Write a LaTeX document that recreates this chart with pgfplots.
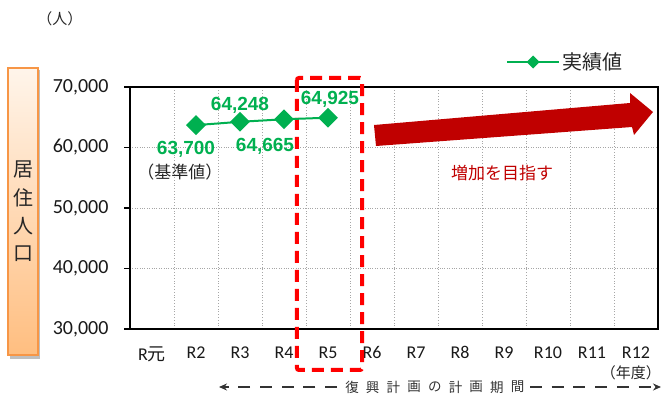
\documentclass[border=0pt]{standalone}
\usepackage{pgfplots}
\pgfplotsset{compat=1.18}
\usetikzlibrary{arrows.meta}
\usepackage{fontspec}
\setmainfont{Carlito}
\newfontfamily\jp{Noto Sans CJK JP}
\newfontfamily\lab{Liberation Sans}
\definecolor{grn}{HTML}{00B050}
\definecolor{dred}{HTML}{C00000}
\definecolor{orgB}{HTML}{F79646}
\begin{document}
\begin{tikzpicture}
\path[use as bounding box] (0pt,0pt) rectangle (662pt,396pt);
% orange label box
\fill[black!25] (10pt,37pt) rectangle (40pt,326pt);
\shade[top color=orange!8, bottom color={rgb,255:red,255;green,190;blue,128}, draw=orgB, line width=1.5pt] (8pt,41pt) rectangle (38pt,328pt);
\node[font=\jp\fontsize{20}{20}\selectfont, text=black!85] at (23pt,227pt) {居};
\node[font=\jp\fontsize{20}{20}\selectfont, text=black!85] at (23pt,198pt) {住};
\node[font=\jp\fontsize{20}{20}\selectfont, text=black!85] at (23pt,170pt) {人};
\node[font=\jp\fontsize{20}{20}\selectfont, text=black!85] at (23pt,142pt) {口};
% unit
\node[font=\jp\fontsize{15}{15}\selectfont, text=black!85] at (60pt,377pt) {（人）};
\node[font=\jp\fontsize{15}{15}\selectfont, text=black!85, anchor=east, inner sep=0pt] at (661pt,23pt) {（年度）};
% plan period
\foreach \c [count=\i from 0] in {復,興,計,画,の,計,画,期,間} {
  \node[font=\jp\fontsize{13.5}{13.5}\selectfont, text=black!80, inner sep=0pt] at ({352pt+20.7pt*\i},9pt) {\c};
}
\draw[black!80, line width=1.5pt, dash pattern=on 12pt off 9.7pt, -{Stealth[length=8pt,width=7pt]}] (337pt,9pt) -- (219pt,9pt);
\draw[black!80, line width=1.5pt, dash pattern=on 12pt off 9.7pt, -{Stealth[length=8pt,width=7pt]}] (530pt,9pt) -- (661pt,9pt);
\begin{axis}[
  at={(130pt,67pt)}, anchor=south west,
  scale only axis, width=528pt, height=242pt,
  xmin=-0.5, xmax=11.5, ymin=30000, ymax=70000,
  clip=false,
  xtick={0,...,11},
  xticklabels={R{\jp 元},R2,R3,R4,R5,R6,R7,R8,R9,R10,R11,R12},
  minor xtick={0.5,1.5,...,10.5},
  xminorgrids,
  major x tick style={draw=none},
  minor x tick style={draw=none},
  ytick={30000,40000,50000,60000,70000},
  ymajorgrids,
  ytick pos=left, xtick pos=bottom,
  tick align=outside,
  major tick length=6pt,
  y tick style={black, line width=1.2pt},
  grid style={gray!70, dotted, line width=0.8pt},
  minor grid style={gray!70, dotted, line width=0.8pt},
  axis line style={black, line width=1.3pt},
  scaled y ticks=false,
  yticklabel style={font=\fontsize{20}{20}\selectfont, text=black!90, xshift=-12pt,
    /pgf/number format/fixed, /pgf/number format/1000 sep={,}, /pgf/number format/assume math mode=true},
  xticklabel style={font=\fontsize{18}{18}\selectfont, text=black!90, yshift=-8pt},
  legend style={at={(0.824,1.103)}, anchor=center, draw=none, fill=none,
    font=\jp\fontsize{20}{20}\selectfont, text=black!85},
  legend image code/.code={\draw[#1, mark repeat=2, mark phase=2, mark size=3.6pt] plot coordinates {(0pt,0pt) (26pt,0pt) (52pt,0pt)};},
]
% dashed red rectangle
\draw[red, line width=4pt, dash pattern=on 12pt off 7pt, rounded corners=2pt]
  (axis cs:3.295,71488) rectangle (axis cs:4.773,23223);
% big arrow
\fill[dred] (axis cs:5.045,63719) -- (axis cs:10.864,67355) -- (axis cs:10.864,69008)
  -- (axis cs:11.386,65868) -- (axis cs:10.955,62066) -- (axis cs:10.909,63388)
  -- (axis cs:5.091,60248) -- cycle;
\addplot[grn, line width=2pt, mark=square*, mark size=6pt, mark options={fill=grn, rotate=45, solid}]
  coordinates {(1,63700) (2,64248) (3,64665) (4,64925)};
\addlegendentry{実績値}
% data labels
\node[font=\lab\bfseries\fontsize{19}{19}\selectfont, text=grn] at (axis cs:0.773,59752) {63,700};
\node[font=\jp\fontsize{17}{17}\selectfont, text=black!85] at (axis cs:0.636,55950) {（基準値）};
\node[font=\lab\bfseries\fontsize{19}{19}\selectfont, text=grn] at (axis cs:2.0,67025) {64,248};
\node[font=\lab\bfseries\fontsize{19}{19}\selectfont, text=grn] at (axis cs:2.568,60248) {64,665};
\node[font=\lab\bfseries\fontsize{19}{19}\selectfont, text=grn] at (axis cs:4.045,68017) {64,925};
\node[font=\jp\fontsize{17}{17}\selectfont, text=dred] at (axis cs:7.955,55785) {増加を目指す};
\draw[black, line width=2pt] (axis cs:-0.5,30000) -- (axis cs:-0.5,70000);
\end{axis}
\end{tikzpicture}
\end{document}
